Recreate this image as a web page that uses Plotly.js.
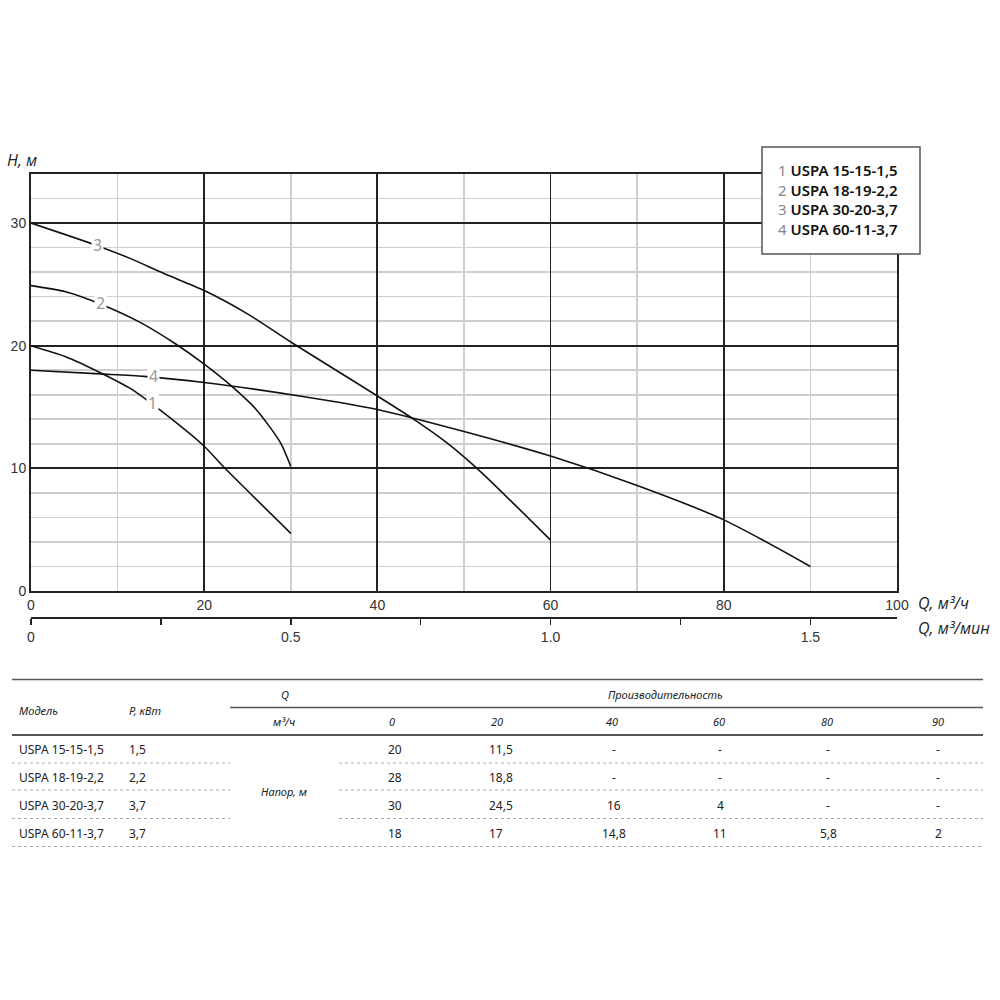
<!DOCTYPE html>
<html>
<head>
<meta charset="utf-8">
<script src="https://cdn.plot.ly/plotly-3.0.1.min.js"></script>
<style>html,body{margin:0;padding:0;background:#fff;}#chart{width:1000px;height:1000px;}</style>
</head>
<body>
<div id="chart"></div>
<script>
// ---- data ----
const q1 = [0, 4, 8, 11.5, 15, 20, 22.2, 30];
const h1 = [20, 19.1, 17.8, 16.5, 14.7, 11.8, 10.15, 4.7];
const q2 = [0, 4, 8, 12.6, 16.8, 20, 23, 26, 28.8, 30];
const h2 = [24.9, 24.4, 23.4, 21.9, 20.1, 18.5, 16.8, 14.8, 12.1, 10.15];
const q3 = [0, 7.5, 11.5, 15.3, 20, 25, 30, 35, 40, 44, 48, 51.5, 55.7, 60];
const h3 = [30, 28.2, 27.1, 25.9, 24.5, 22.6, 20.3, 18.1, 15.9, 14.1, 12.1, 10.0, 7.15, 4.15];
const q4 = [0, 8, 13, 20, 31, 40, 50, 60, 70, 80, 90];
const h4 = [18, 17.7, 17.5, 17, 15.9, 14.8, 13.0, 11, 8.6, 5.8, 2];

const curveNums = ["1", "2", "3", "4"];
const models = ["USPA 15-15-1,5", "USPA 18-19-2,2", "USPA 30-20-3,7", "USPA 60-11-3,7"];
const powers = ["1,5", "2,2", "3,7", "3,7"];
const flowHeads = ["0", "20", "40", "60", "80", "90"];
const tableRows = [
  ["20", "11,5", "-", "-", "-", "-"],
  ["28", "18,8", "-", "-", "-", "-"],
  ["30", "24,5", "16", "4", "-", "-"],
  ["18", "17", "14,8", "11", "5,8", "2"]
];
const minTickVals = [0, 0.25, 0.5, 0.75, 1.0, 1.25, 1.5];
const minTickText = ["0", "", "0.5", "", "1.0", "", "1.5"];

// ---- helpers: pixel -> paper ----
const X = px => (px - 31) / 866;
const Y = py => (630 - py) / 456;

const lineStyle = {color: '#111', width: 1.6, shape: 'spline', smoothing: 0.7};
const traces = [
  {x: q1, y: h1, mode: 'lines', line: lineStyle, hoverinfo: 'skip', showlegend: false},
  {x: q2, y: h2, mode: 'lines', line: lineStyle, hoverinfo: 'skip', showlegend: false},
  {x: q3, y: h3, mode: 'lines', line: lineStyle, hoverinfo: 'skip', showlegend: false},
  {x: q4, y: h4, mode: 'lines', line: lineStyle, hoverinfo: 'skip', showlegend: false},
  {x: [0], y: [null], xaxis: 'x2', yaxis: 'y', mode: 'lines', hoverinfo: 'skip', showlegend: false}
];

const tickFont = {family: 'Liberation Sans, Arial, sans-serif', size: 14, color: '#333'};
const italic = {family: 'Open Sans, Noto Sans, sans-serif', size: 16, color: '#222'};
const tblFont = {family: 'Noto Sans, sans-serif', size: 12, color: '#222'};
const tblItal = {family: 'Noto Sans, sans-serif', size: 11, color: '#222'};

const annotations = [];
const shapes = [];

// curve labels
const labelPos = [[14.0, 15.3], [8.0, 23.5], [7.65, 28.2], [14.2, 17.5]];
labelPos.forEach((p, i) => annotations.push({
  x: p[0], y: p[1], xref: 'x', yref: 'y', text: curveNums[i], showarrow: false,
  bgcolor: 'white', borderpad: 1, font: {family: 'Noto Sans, sans-serif', size: 16, color: '#999'}
}));

// axis titles
annotations.push({x: X(5), y: Y(160), xref: 'paper', yref: 'paper', xanchor: 'left', yanchor: 'middle', text: '<i>H, м</i>', showarrow: false, font: italic});
annotations.push({x: X(916), y: Y(603), xref: 'paper', yref: 'paper', xanchor: 'left', yanchor: 'middle', text: '<i>Q, м³/ч</i>', showarrow: false, font: italic});
annotations.push({x: X(916), y: Y(628), xref: 'paper', yref: 'paper', xanchor: 'left', yanchor: 'middle', text: '<i>Q, м³/мин</i>', showarrow: false, font: italic});

// legend box
shapes.push({type: 'rect', xref: 'paper', yref: 'paper', x0: X(762), x1: X(920), y0: Y(254), y1: Y(147),
  fillcolor: 'white', line: {color: '#555', width: 1.5}, layer: 'above'});
const legY = [170, 189.5, 209, 229];
models.forEach((m, i) => annotations.push({
  x: X(776), y: Y(legY[i]), xref: 'paper', yref: 'paper', xanchor: 'left', yanchor: 'middle', showarrow: false,
  text: '<span style="color:#888;font-weight:normal">' + curveNums[i] + '</span> ' + m,
  font: {family: 'Noto Sans, sans-serif', size: 15, color: '#111', weight: 600}
}));

// ---- table ----
function hline(x0, x1, y, color, width, dash) {
  shapes.push({type: 'line', xref: 'paper', yref: 'paper', x0: X(x0), x1: X(x1), y0: Y(y), y1: Y(y),
    line: {color: color, width: width, dash: dash || 'solid'}});
}
function txt(px, py, t, font, anchor) {
  annotations.push({x: X(px), y: Y(py), xref: 'paper', yref: 'paper', xanchor: anchor || 'center', yanchor: 'middle',
    text: t, showarrow: false, font: font});
}
hline(12, 983, 679.5, '#555', 1.5);
hline(230, 983, 707.5, '#555', 1.5);
hline(12, 983, 735, '#555', 2);
const sepY = [763, 790, 818.5];
sepY.forEach(y => { hline(12, 230, y, '#aaa', 1, 'dot'); hline(339, 983, y, '#aaa', 1, 'dot'); });
hline(12, 983, 846.5, '#aaa', 1, 'dot');

txt(17, 710, '<i>Модель</i>', tblItal, 'left');
txt(127, 710, '<i>P, кВт</i>', tblItal, 'left');
txt(285, 694, '<i>Q</i>', tblItal);
txt(284, 721, '<i>м³/ч</i>', tblItal);
txt(665, 694, '<i>Производительность</i>', tblItal);
txt(284, 791, '<i>Напор, м</i>', tblItal);
const colHeadX = [392, 497, 612, 719, 827, 938];
const colDataX = [395, 487, 614, 720, 828, 938];
flowHeads.forEach((h, j) => txt(colHeadX[j], 721, '<i>' + h + '</i>', tblItal));
const rowY = [749.5, 777.5, 806, 833.5];
models.forEach((m, i) => {
  txt(17, rowY[i], m, tblFont, 'left');
  txt(127, rowY[i], powers[i], tblFont, 'left');
  tableRows[i].forEach((v, j) => txt(colDataX[j], rowY[i], v, tblFont, j === 1 ? 'left' : 'center'));
});

const layout = {
  width: 1000, height: 1000,
  paper_bgcolor: 'white', plot_bgcolor: 'white',
  margin: {l: 31, r: 103, t: 174, b: 370, pad: 0},
  showlegend: false,
  xaxis: {
    range: [0, 100], dtick: 20, tick0: 0, showgrid: true, gridcolor: '#222', gridwidth: 1.8,
    minor: {dtick: 10, showgrid: true, gridcolor: '#cfcfcf', gridwidth: 1.6},
    showline: true, linecolor: '#222', linewidth: 2, mirror: true, zeroline: false,
    ticks: '', tickfont: tickFont, fixedrange: true
  },
  yaxis: {
    domain: [39 / 456, 1], range: [0, 34], dtick: 10, tick0: 0, showgrid: true, gridcolor: '#222', gridwidth: 1.8,
    minor: {dtick: 2, showgrid: true, gridcolor: '#cfcfcf', gridwidth: 1.6},
    showline: true, linecolor: '#222', linewidth: 2, mirror: true, zeroline: false,
    ticks: '', tickfont: tickFont, fixedrange: true
  },
  xaxis2: {
    overlaying: 'x', anchor: 'free', position: 12 / 456, side: 'bottom',
    range: [0, 100 / 60], tickmode: 'array', tickvals: minTickVals, ticktext: minTickText,
    ticks: 'outside', ticklen: 6, tickwidth: 1.5, tickcolor: '#222',
    showline: true, linecolor: '#222', linewidth: 2, showgrid: false, zeroline: false,
    tickfont: tickFont, fixedrange: true
  },
  shapes: shapes,
  annotations: annotations
};

Plotly.newPlot('chart', traces, layout, {staticPlot: true});
</script>
</body>
</html>
